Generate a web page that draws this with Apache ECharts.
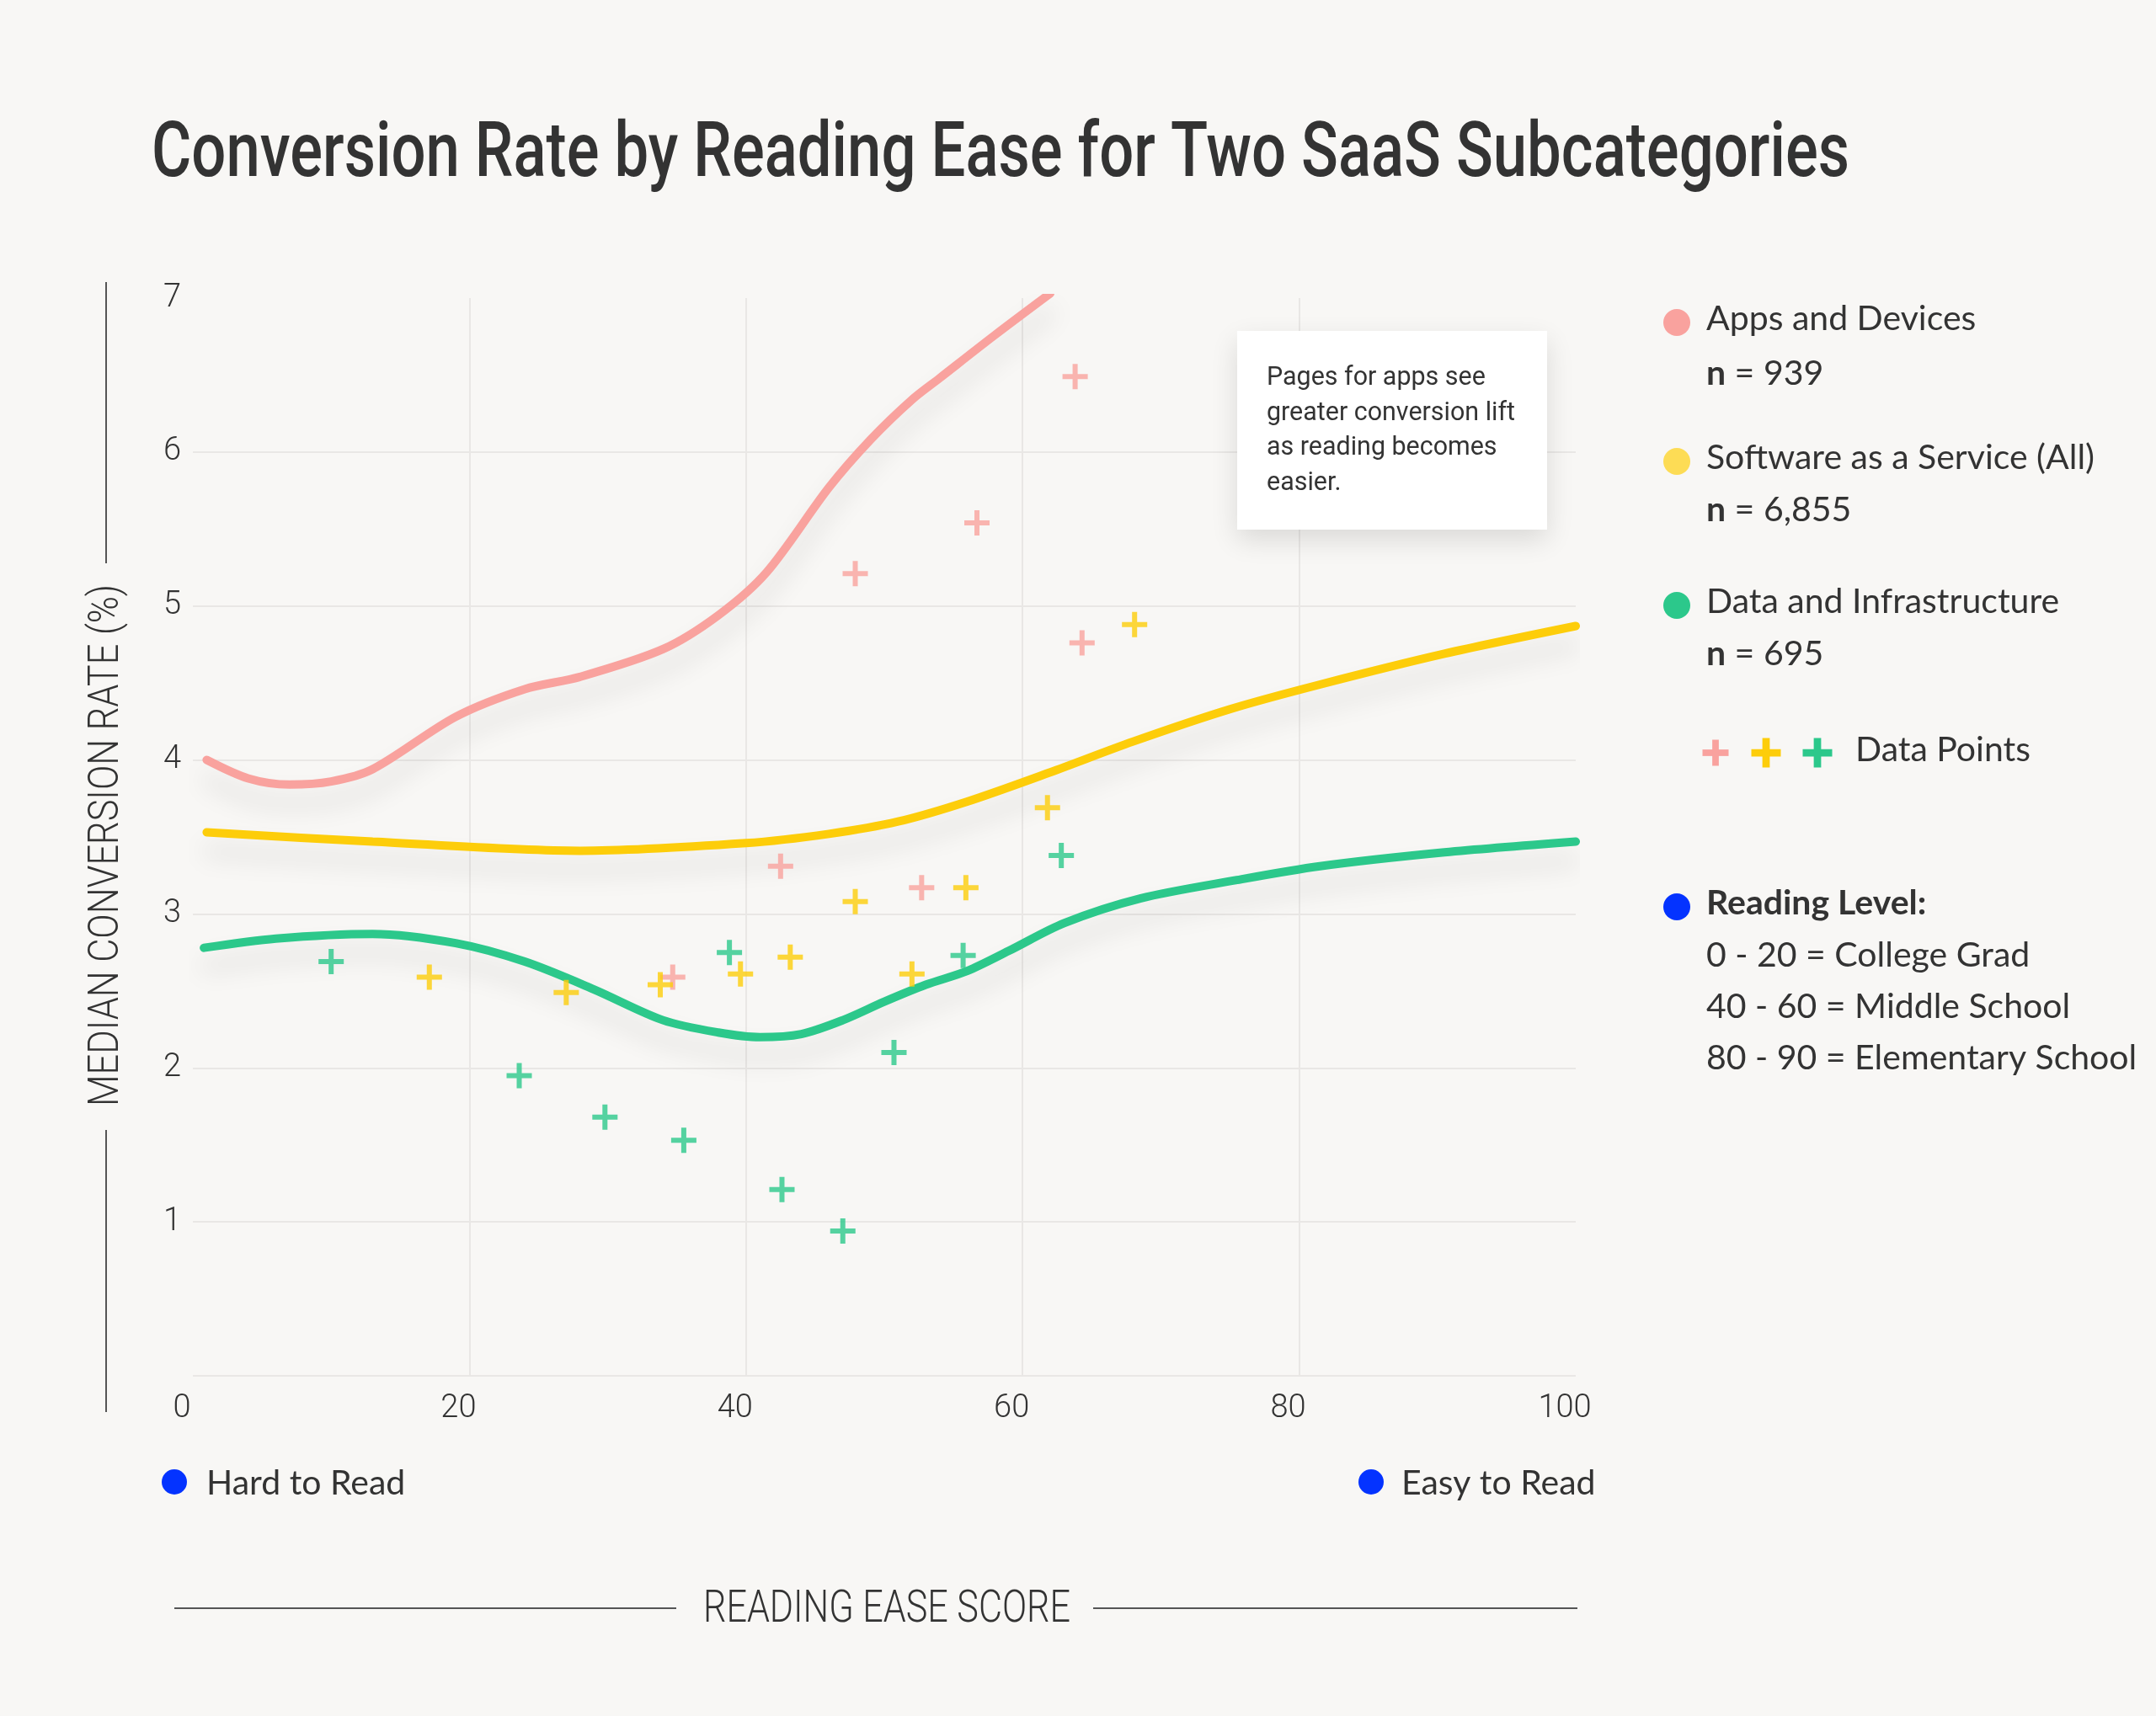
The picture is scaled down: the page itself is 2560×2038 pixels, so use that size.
<!DOCTYPE html>
<html>
<head>
<meta charset="utf-8">
<title>Conversion Rate by Reading Ease</title>
<script src="https://cdn.jsdelivr.net/npm/echarts@6/dist/echarts.min.js"></script>
<style>
  html, body { margin: 0; padding: 0; background: #f8f7f5; }
  #chart_main { width: 2560px; height: 2038px; }
</style>
</head>
<body>
<div id="chart_main"></div>
<script>
// smoothed medians, [reading ease, conversion %]
const appsLine = [[1,4.0],[4,3.88],[7,3.84],[10,3.86],[13,3.94],[19,4.28],[24,4.46],[28,4.54],[34,4.72],[38,4.94],[41.5,5.22],[46,5.77],[49,6.08],[52,6.34],[54,6.48],[58,6.76],[62,7.03]];
const saasLine = [[1,3.53],[13,3.47],[28,3.41],[40,3.46],[46,3.52],[51,3.60],[56,3.73],[62,3.92],[68,4.12],[75,4.33],[81.5,4.49],[90.5,4.69],[100,4.87]];
const dataLine = [[0.8,2.78],[6,2.84],[13,2.87],[19,2.81],[24,2.69],[29,2.51],[34,2.31],[38,2.23],[41,2.20],[44,2.22],[47,2.31],[50,2.43],[53,2.54],[56,2.63],[59,2.76],[63,2.94],[68.5,3.10],[75.5,3.22],[81.5,3.31],[90.5,3.40],[100,3.47]];

// raw data points
const appsPoints = [[63.8,6.49],[56.7,5.54],[47.9,5.21],[64.3,4.76],[42.5,3.31],[52.7,3.17],[34.7,2.59]];
const saasPoints = [[68.1,4.88],[61.8,3.69],[55.9,3.17],[47.9,3.08],[43.2,2.72],[39.6,2.61],[52,2.61],[33.8,2.54],[27,2.49],[17.1,2.59]];
const dataPoints = [[10,2.69],[38.8,2.75],[55.7,2.73],[62.8,3.38],[50.7,2.10],[23.6,1.95],[29.8,1.68],[35.5,1.53],[42.6,1.21],[47,0.94]];

const xTicks = [0, 20, 40, 60, 80, 100];
const yTicks = [1, 2, 3, 4, 5, 6, 7];

const seriesNames = ['Apps and Devices', 'Software as a Service (All)', 'Data and Infrastructure'];
const seriesN = ['939', '6,855', '695'];
const readingLevels = ['0 - 20 = College Grad', '40 - 60 = Middle School', '80 - 90 = Elementary School'];
const noteLines = ['Pages for apps see', 'greater conversion lift', 'as reading becomes', 'easier.'];

const PINK = '#f9a29e', YELLOW = '#fdcd0a', GREEN = '#2cc88b', BLUE = '#0433ff';
const LEGEND_DOT = ['#f9a29e', '#fddc55', '#2cc88b'];
const TEXT = '#333333', GRID = '#e9e7e5';
const COND = "Roboto, sans-serif";
const SANS = "Lato, 'Noto Sans', sans-serif";
const PLUS = 'path://M6,0H9V6H15V9H9V15H6V9H0V6H6Z';

const measureCtx = document.createElement('canvas').getContext('2d');
function widthOf(text, font) { measureCtx.font = font; return measureCtx.measureText(text).width; }

function lineSeries(name, data, color) {
  return {
    name: name, type: 'line', data: data, smooth: 0.3, symbol: 'none', z: 2,
    lineStyle: { width: 10, color: color, cap: 'round',
      shadowColor: 'rgba(0,0,0,0.13)', shadowBlur: 30, shadowOffsetY: 22 }
  };
}
function pointSeries(name, data, color) {
  return {
    name: name, type: 'scatter', data: data, symbol: PLUS, symbolSize: 30, z: 3,
    itemStyle: { color: color }
  };
}
function txt(x, y, text, font, opts) {
  return Object.assign({ type: 'text', x: x, y: y, z: 10,
    style: { text: text, font: font, fill: TEXT, textVerticalAlign: 'middle' } }, opts || {});
}
// condensed text: squeeze a font horizontally to a target width
function fitTxt(x, y, text, font, target, opts) {
  const el = txt(x, y, text, font, opts);
  el.scaleX = target / widthOf(text, font);
  return el;
}
function hline(x1, x2, y) {
  return { type: 'line', shape: { x1: x1, y1: y, x2: x2, y2: y }, style: { stroke: '#555', lineWidth: 2 } };
}
function vline(x, y1, y2) {
  return { type: 'line', shape: { x1: x, y1: y1, x2: x, y2: y2 }, style: { stroke: '#555', lineWidth: 2 } };
}
function plus(cx, cy, size, color) {
  const t = size / 4;
  return { type: 'group', children: [
    { type: 'rect', shape: { x: cx - size / 2, y: cy - t / 2, width: size, height: t }, style: { fill: color } },
    { type: 'rect', shape: { x: cx - t / 2, y: cy - size / 2, width: t, height: size }, style: { fill: color } }
  ] };
}

let graphics = [];
// title
graphics.push(fitTxt(180, 186, 'Conversion Rate by Reading Ease for Two SaaS Subcategories', '500 90px ' + COND, 2016));

// legend
const legendY = [379, 544, 715];
const nY = [444, 606, 777];
seriesNames.forEach(function (s, i) {
  graphics.push({ type: 'circle', shape: { cx: 1991, cy: legendY[i] + 4, r: 16 }, style: { fill: LEGEND_DOT[i] } });
  graphics.push(txt(2026, legendY[i], s, '41px ' + SANS));
  graphics.push({ type: 'text', x: 2026, y: nY[i], style: {
    text: '{b|n} = ' + seriesN[i], font: '41px ' + SANS, fill: TEXT, textVerticalAlign: 'middle',
    rich: { b: { fontWeight: 'bold', fontSize: 41, fontFamily: 'Lato' } } } });
});
graphics.push(plus(2037, 894, 31, PINK));
graphics.push(plus(2097, 894, 35, YELLOW));
graphics.push(plus(2158, 894, 35, GREEN));
graphics.push(txt(2203, 891, 'Data Points', '41px ' + SANS));

graphics.push({ type: 'circle', shape: { cx: 1991, cy: 1077, r: 16 }, style: { fill: BLUE } });
graphics.push(txt(2026, 1073, 'Reading Level:', 'bold 41px ' + SANS));
readingLevels.forEach(function (s, i) {
  graphics.push(txt(2026, 1135 + i * 61, s, '41px ' + SANS));
});

// note box
graphics.push({ type: 'rect', shape: { x: 1469, y: 393, width: 368, height: 236 }, z: 8,
  style: { fill: '#ffffff', shadowColor: 'rgba(0,0,0,0.12)', shadowBlur: 30, shadowOffsetY: 12 } });
const noteFont = '32px ' + COND;
const noteScale = 295 / widthOf(noteLines[1], noteFont);
noteLines.forEach(function (s, i) {
  graphics.push(txt(1504, 449 + i * 41.5, s, noteFont, { z: 9, scaleX: noteScale }));
});

// hard / easy markers
graphics.push({ type: 'circle', shape: { cx: 207, cy: 1760, r: 15 }, style: { fill: BLUE } });
graphics.push(txt(245, 1762, 'Hard to Read', '41px ' + SANS));
graphics.push({ type: 'circle', shape: { cx: 1628, cy: 1760, r: 15 }, style: { fill: BLUE } });
graphics.push(txt(1664, 1762, 'Easy to Read', '41px ' + SANS));

// axis names with their rules
const xName = fitTxt(1053, 1912, 'READING EASE SCORE', '300 54px ' + COND, 436);
xName.style.textAlign = 'center';
graphics.push(xName);
const yName = fitTxt(127, 1004, 'MEDIAN CONVERSION RATE (%)', '300 50px ' + COND, 620);
yName.style.textAlign = 'center';
yName.rotation = Math.PI / 2;
graphics.push(yName);
graphics.push(hline(207, 803, 1910));
graphics.push(hline(1298, 1873, 1910));
graphics.push(vline(126, 335, 669));
graphics.push(vline(126, 1342, 1677));

const chart = echarts.init(document.getElementById('chart_main'));
chart.setOption({
  backgroundColor: '#f8f7f5',
  animation: false,
  grid: { left: 229, right: 689, top: 354, bottom: 404 },
  xAxis: {
    type: 'value', min: 0, max: 100, interval: 20,
    axisLine: { show: false }, axisTick: { show: false },
    axisLabel: { fontFamily: COND, fontWeight: 300, fontSize: 38, color: TEXT, margin: 20, padding: [0, 26, 0, 0],
      formatter: function (v) { return xTicks.indexOf(v) >= 0 ? String(v) : ''; } },
    splitLine: { show: true, lineStyle: { width: 2, color: ['transparent', GRID, GRID, GRID, GRID, 'transparent'] } }
  },
  yAxis: {
    type: 'value', min: 0, max: 7, interval: 1,
    axisLine: { show: false }, axisTick: { show: false },
    axisLabel: { fontFamily: COND, fontWeight: 300, fontSize: 38, color: TEXT, margin: 14,
      formatter: function (v) { return yTicks.indexOf(v) >= 0 ? String(v) : ''; } },
    splitLine: { show: true, lineStyle: { width: 2, color: [GRID, GRID, GRID, GRID, GRID, GRID, GRID, 'transparent'] } }
  },
  series: [
    lineSeries(seriesNames[0], appsLine, PINK),
    lineSeries(seriesNames[1], saasLine, YELLOW),
    lineSeries(seriesNames[2], dataLine, GREEN),
    pointSeries(seriesNames[0] + ' points', appsPoints, PINK),
    pointSeries(seriesNames[1] + ' points', saasPoints, YELLOW),
    pointSeries(seriesNames[2] + ' points', dataPoints, GREEN)
  ],
  graphic: graphics
});
</script>
</body>
</html>
